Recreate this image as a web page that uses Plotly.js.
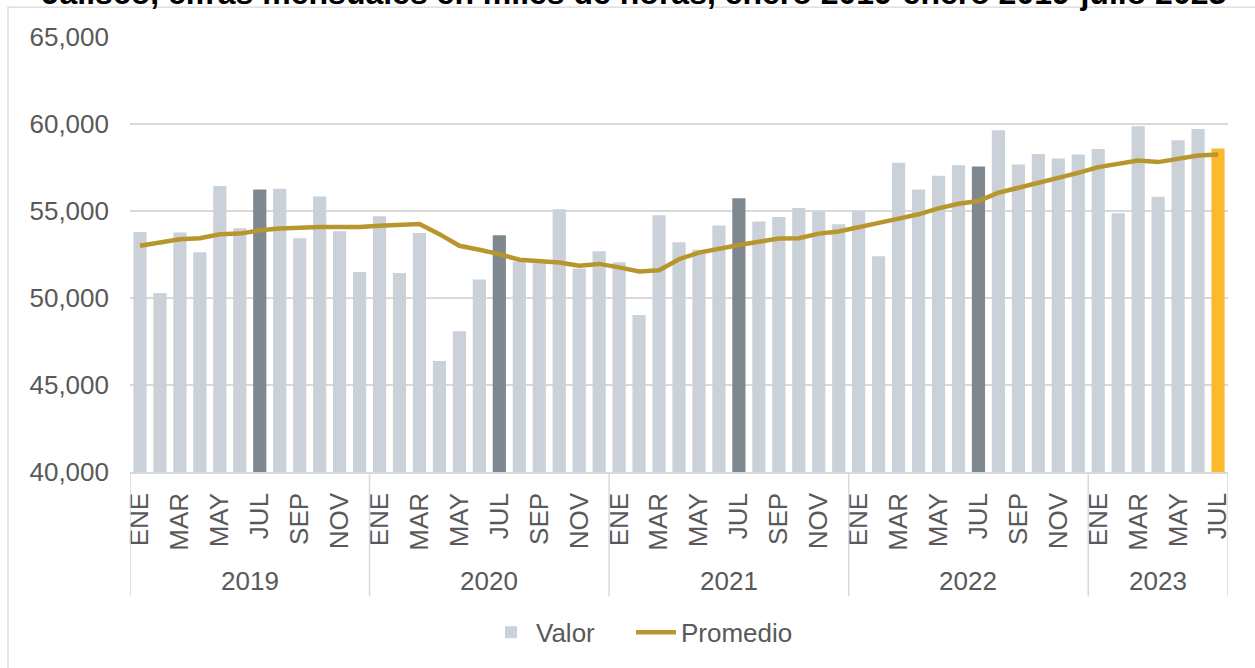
<!DOCTYPE html>
<html>
<head>
<meta charset="utf-8">
<script src="https://cdn.plot.ly/plotly-3.0.1.min.js"></script>
<style>
  html, body { margin: 0; padding: 0; background: #fff; }
  #chart { width: 1255px; height: 668px; }
</style>
</head>
<body>
<div id="chart"></div>
<script>
// ---- Data ----
const titleText = 'Jalisco, cifras mensuales en miles de horas, enero 2019-enero 2019-julio 2023';
const monthNames = ['ENE','FEB','MAR','ABR','MAY','JUN','JUL','AGO','SEP','OCT','NOV','DIC'];
const years = ['2019','2020','2021','2022','2023'];

const valor2019 = [53800, 50290, 53760, 52630, 56430, 54010, 56240, 56280, 53440, 55840, 53840, 51490];
const valor2020 = [54700, 51430, 53740, 46380, 48090, 51070, 53610, 52100, 52000, 55100, 51700, 52690];
const valor2021 = [52060, 49030, 54750, 53210, 52780, 54160, 55730, 54390, 54660, 55170, 54960, 54240];
const valor2022 = [55000, 52400, 57770, 56240, 57020, 57630, 57560, 59640, 57670, 58280, 58020, 58240];
const valor2023 = [58570, 54870, 59870, 55820, 59070, 59710, 58590];

const promedio2019 = [53000, 53190, 53380, 53440, 53660, 53700, 53890, 53990, 54050, 54080, 54080, 54080];
const promedio2020 = [54150, 54220, 54250, 53670, 53000, 52770, 52520, 52200, 52100, 52040, 51850, 51960];
const promedio2021 = [51760, 51530, 51600, 52230, 52610, 52860, 53050, 53230, 53420, 53440, 53700, 53820];
const promedio2022 = [54050, 54290, 54560, 54810, 55150, 55420, 55570, 56050, 56340, 56620, 56870, 57190];
const promedio2023 = [57520, 57730, 57900, 57810, 58000, 58190, 58240];

const valorByYear = [valor2019, valor2020, valor2021, valor2022, valor2023];
const promedioByYear = [promedio2019, promedio2020, promedio2021, promedio2022, promedio2023];

// ---- Build series ----
const valor = [].concat(...valorByYear);
const promedio = [].concat(...promedioByYear);
const monthLabels = [];
const monthIdx = [];
const groupStart = [];
valorByYear.forEach((arr, yi) => {
  groupStart.push(monthLabels.length);
  arr.forEach((v, mi) => { monthLabels.push(monthNames[mi]); monthIdx.push(mi); });
});
const n = valor.length;
const xs = valor.map((v, i) => i);

// ---- Styles ----
const COL_BAR = '#CAD1D8';
const COL_JUL = '#7F888E';
const COL_LAST = '#FBBA2B';
const COL_LINE = '#B8962E';
const COL_TEXT = '#595959';
const COL_GRID = '#D9D9D9';
const FONT = 'Liberation Sans, Arial, sans-serif';

const barColors = monthLabels.map((m, i) => i === n - 1 ? COL_LAST : (m === 'JUL' ? COL_JUL : COL_BAR));

const W = 1255, H = 668;
const M = { l: 130, r: 27, t: 37, b: 194 };
const plotW = W - M.l - M.r, plotH = H - M.t - M.b;
const px2py = y => (H - M.b - y) / plotH;   // page y -> paper y
const px2px = x => (x - M.l) / plotW;        // page x -> paper x

const tickvals = xs.filter(i => monthIdx[i] % 2 === 0);
const ticktext = tickvals.map(i => monthLabels[i]);

const shapes = [];
// outer frame
shapes.push({ type: 'rect', xref: 'paper', yref: 'paper',
  x0: px2px(8), x1: px2px(1262), y0: px2py(675), y1: px2py(7),
  line: { color: COL_GRID, width: 1.3 }, fillcolor: 'rgba(0,0,0,0)', layer: 'below' });
// year dividers
const dividers = groupStart.concat([n]);
dividers.forEach(s => {
  shapes.push({ type: 'line', xref: 'x', yref: 'paper', x0: s - 0.5, x1: s - 0.5,
    y0: 0, y1: px2py(599), line: { color: COL_GRID, width: 1.5 } });
});

const annotations = years.map((yr, yi) => ({
  xref: 'x', yref: 'paper', x: (groupStart[yi] + (yi + 1 < years.length ? groupStart[yi + 1] : n) - 1) / 2,
  y: px2py(584), yanchor: 'middle', xanchor: 'center', showarrow: false,
  text: yr, font: { family: FONT, size: 26, color: COL_TEXT }
}));

const traces = [
  { type: 'bar', name: 'Valor', x: xs, y: valor, legend: 'legend',
    marker: { color: barColors, line: { width: 0 } }, hoverinfo: 'y' },
  { type: 'scatter', mode: 'lines', name: 'Promedio', x: xs, y: promedio, legend: 'legend2',
    line: { color: COL_LINE, width: 4.5 }, hoverinfo: 'y' }
];

const legendBase = { orientation: 'h', xref: 'paper', xanchor: 'left',
  y: px2py(635), yanchor: 'middle', font: { family: FONT, size: 26, color: COL_TEXT },
  itemwidth: 40, bgcolor: 'rgba(0,0,0,0)' };

const layout = {
  width: W, height: H,
  margin: M,
  paper_bgcolor: '#fff', plot_bgcolor: '#fff',
  font: { family: FONT, size: 26, color: COL_TEXT },
  title: { text: titleText, font: { family: FONT, size: 32, color: '#000', weight: 'bold' },
    xref: 'container', x: 634 / W, yref: 'container', y: 1 - 4 / H, yanchor: 'bottom', xanchor: 'center' },
  bargap: 0.34,
  showlegend: true,
  legend: Object.assign({}, legendBase, { x: px2px(486) }),
  legend2: Object.assign({}, legendBase, { x: px2px(631) }),
  xaxis: {
    range: [-0.5, n - 0.5], tickmode: 'array', tickvals: tickvals, ticktext: ticktext,
    tickangle: -90, ticks: '', showgrid: false, zeroline: false,
    showline: true, linecolor: COL_GRID, linewidth: 1.5,
    tickfont: { family: FONT, size: 26, color: COL_TEXT }, ticklabelstandoff: 9
  },
  yaxis: {
    range: [40000, 65000], dtick: 5000, tick0: 40000, tickformat: ',d',
    showgrid: true, gridcolor: COL_GRID, gridwidth: 1.5, zeroline: false, showline: false,
    ticks: '', tickfont: { family: FONT, size: 26, color: COL_TEXT }, ticklabelstandoff: 20
  },
  shapes: shapes,
  annotations: annotations
};

Plotly.newPlot('chart', traces, layout, { displayModeBar: false, staticPlot: true });
</script>
</body>
</html>
